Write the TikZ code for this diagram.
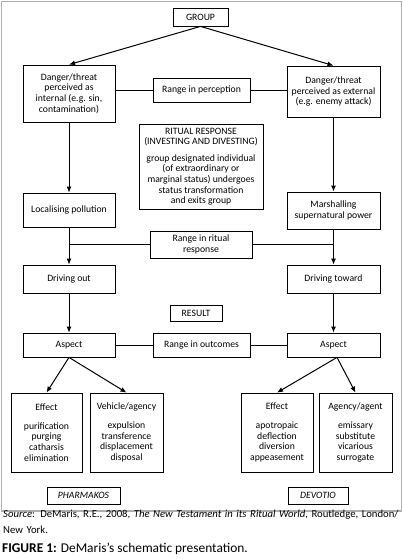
\documentclass[tikz,border=0pt]{standalone}
\usepackage{fontspec}
\setmainfont{Carlito}
\usetikzlibrary{arrows.meta,calc}
\definecolor{framegray}{RGB}{175,175,175}
\begin{document}
\begin{tikzpicture}[x=1pt,y=-1pt,
  box/.style={draw, line width=0.8pt, inner sep=0pt, align=center,
    font=\fontsize{9.7}{10.6}\selectfont},
  arr/.style={line width=1pt, -{Latex[length=6pt,width=5pt]}},
  link/.style={line width=0.8pt}]
\useasboundingbox (0,0) rectangle (403,559);
\draw[framegray, line width=1.5pt] (1.5,1.5) rectangle (401.5,511);

\node[box, minimum width=55, minimum height=18] (group) at (200.5,17) {GROUP};
\node[box, minimum width=92, minimum height=57] (dl) at (69,93.5) {Danger/threat\\perceived as\\internal (e.g. sin,\\contamination)};
\node[box, minimum width=93, minimum height=51] (dr) at (333.5,91.5) {Danger/threat\\perceived as external\\(e.g. enemy attack)};
\node[box, minimum width=97, minimum height=24] (rp) at (201.5,90) {Range in perception};
\node[box, minimum width=124, minimum height=85] (rit) at (201,166.5) {RITUAL RESPONSE\\(INVESTING AND DIVESTING)\\[6pt]group designated individual\\(of extraordinary or\\marginal status) undergoes\\status transformation\\and exits group};
\node[box, minimum width=92, minimum height=34] (loc) at (69,210) {Localising pollution};
\node[box, minimum width=93, minimum height=37] (mar) at (333.5,210.5) {Marshalling\\supernatural power};
\node[box, minimum width=102, minimum height=27] (rr) at (201,244.5) {Range in ritual\\response};
\node[box, minimum width=92, minimum height=28] (dout) at (69,279) {Driving out};
\node[box, minimum width=93, minimum height=28] (dtow) at (333.5,279) {Driving toward};
\node[box, minimum width=52, minimum height=16] (res) at (196,313) {RESULT};
\node[box, minimum width=92, minimum height=24] (aL) at (69,345) {Aspect};
\node[box, minimum width=93, minimum height=24] (aR) at (333.5,345) {Aspect};
\node[box, minimum width=97, minimum height=24] (ro) at (201.5,345) {Range in outcomes};
\node[box, minimum width=71, minimum height=79] (e1) at (46.5,432.5) {Effect\\[8pt]purification\\purging\\catharsis\\elimination};
\node[box, minimum width=73, minimum height=79] (v1) at (126.5,432.5) {Vehicle/agency\\[8pt]expulsion\\transference\\displacement\\disposal};
\node[box, minimum width=72, minimum height=79] (e2) at (277,432.5) {Effect\\[8pt]apotropaic\\deflection\\diversion\\appeasement};
\node[box, minimum width=73, minimum height=79] (a2) at (355.5,432.5) {Agency/agent\\[8pt]emissary\\substitute\\vicarious\\surrogate};
\node[box, minimum width=73, minimum height=17] (ph) at (83.5,495.5) {\itshape PHARMAKOS};
\node[box, minimum width=60, minimum height=17] (dv) at (318,495.5) {\itshape DEVOTIO};

\draw[arr] (group.south) -- (dl.north);
\draw[arr] (group.south) -- (dr.north);
\draw[link] (rp.west) -- (rp.west -| dl.east);
\draw[link] (rp.east) -- (rp.east -| dr.west);
\draw[arr] (dl.south) -- (loc.north);
\draw[arr] (dr.south) -- (mar.north);
\draw[arr] (loc.south) -- (dout.north);
\draw[arr] (mar.south) -- (dtow.north);
\draw[link] (rr.west) -- (rr.west -| loc.south);
\draw[link] (rr.east) -- (rr.east -| mar.south);
\draw[arr] (dout.south) -- (aL.north);
\draw[arr] (dtow.south) -- (aR.north);
\draw[link] (ro.west) -- (aL.east);
\draw[link] (ro.east) -- (aR.west);
\draw[arr] (aL.south) -- (e1.north);
\draw[arr] (aL.south) -- (v1.north);
\coordinate (aRs) at ($(aR.south)+(3.5,0)$);
\draw[arr] (aRs) -- (e2.north);
\draw[arr] (aRs) -- (a2.north);

\node[anchor=north west, inner sep=0pt, text width=398pt, font=\fontsize{10.7}{16}\selectfont] (src) at (3,510) {\noindent\textit{Source}: DeMaris, R.E., 2008, \textit{The New Testament in its Ritual World}, Routledge, London/\linebreak New York.};
\node[anchor=west, inner sep=0pt, font=\fontsize{13.4}{15}\selectfont] (fig) at (2,549) {\textbf{FIGURE 1:} DeMaris’s schematic presentation.};
\end{tikzpicture}
\end{document}
